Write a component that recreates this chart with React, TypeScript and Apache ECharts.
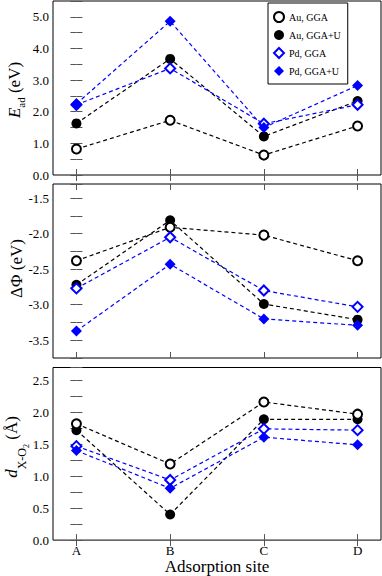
import React, { useEffect, useRef } from 'react';
import * as echarts from 'echarts';

// ---- data ----
const sites = ['A', 'B', 'C', 'D'];
const seriesNames = ['Au, GGA', 'Au, GGA+U', 'Pd, GGA', 'Pd, GGA+U'];

const eadAuGGA = [0.82, 1.73, 0.63, 1.55];
const eadAuGGAU = [1.63, 3.67, 1.22, 2.34];
const eadPdGGA = [2.22, 3.37, 1.62, 2.22];
const eadPdGGAU = [2.25, 4.86, 1.5, 2.83];

const dphiAuGGA = [-2.38, -1.91, -2.02, -2.38];
const dphiAuGGAU = [-2.72, -1.81, -2.99, -3.21];
const dphiPdGGA = [-2.77, -2.05, -2.8, -3.03];
const dphiPdGGAU = [-3.37, -2.43, -3.2, -3.29];

const dAuGGA = [1.82, 1.19, 2.16, 1.97];
const dAuGGAU = [1.72, 0.4, 1.89, 1.89];
const dPdGGA = [1.47, 0.94, 1.74, 1.72];
const dPdGGAU = [1.4, 0.81, 1.61, 1.49];

const eadTicks = { min: 0, max: 5.5, step: 0.5, major: 1 };
const dphiTicks = { min: -3.75, max: -1.3, step: 0.25, major: 0.5 };
const dTicks = { min: 0, max: 2.7, step: 0.25, major: 0.5 };

const FONT = 'Liberation Serif';
const BLUE = '#0000ff';

const panels = [
  { ticks: eadTicks, data: [eadAuGGAU, eadAuGGA, eadPdGGA, eadPdGGAU] },
  { ticks: dphiTicks, data: [dphiAuGGAU, dphiAuGGA, dphiPdGGA, dphiPdGGAU] },
  { ticks: dTicks, data: [dAuGGAU, dAuGGA, dPdGGA, dPdGGAU] },
];
// order of series in each panel's data above
const order = [1, 0, 2, 3];

const gridTops = [1, 184, 367.5];
const gridH = 174;
const gridLeft = 53;
const gridW = 328;

const styleFor = (k: number) => {
  switch (k) {
    case 0:
      return { symbol: 'circle', symbolSize: 9, itemStyle: { color: '#fff', borderColor: '#000', borderWidth: 2 }, line: '#000' };
    case 1:
      return { symbol: 'circle', symbolSize: 10, itemStyle: { color: '#000', borderColor: '#000', borderWidth: 0 }, line: '#000' };
    case 2:
      return { symbol: 'diamond', symbolSize: 10, itemStyle: { color: '#fff', borderColor: BLUE, borderWidth: 2 }, line: BLUE };
    default:
      return { symbol: 'diamond', symbolSize: 11, itemStyle: { color: BLUE, borderColor: BLUE, borderWidth: 0 }, line: BLUE };
  }
};

let measureCtx: CanvasRenderingContext2D | null = null;
function textWidth(text: string, size: number, italic: boolean) {
  if (!measureCtx) measureCtx = document.createElement('canvas').getContext('2d');
  if (!measureCtx) return text.length * size * 0.5;
  measureCtx.font = `${italic ? 'italic ' : ''}${size}px "Liberation Serif"`;
  return measureCtx.measureText(text).width;
}

type Tok = { text: string; size: number; italic?: boolean; dy?: number };

function verticalTitle(tokens: Tok[], baseX: number, centerY: number) {
  const widths = tokens.map((t) => textWidth(t.text, t.size, !!t.italic));
  const total = widths.reduce((a, b) => a + b, 0);
  let x = -total / 2;
  const children = tokens.map((t, i) => {
    const el = {
      type: 'text',
      x,
      y: (t.dy || 0) - 0.34 * t.size,
      style: {
        text: t.text,
        fontSize: t.size,
        fontFamily: FONT,
        fontStyle: t.italic ? 'italic' : 'normal',
        fill: '#000',
        align: 'left',
        verticalAlign: 'middle',
      },
    };
    x += widths[i];
    return el;
  });
  return { type: 'group', x: baseX, y: centerY, rotation: Math.PI / 2, children };
}

const isMajor = (v: number, major: number) => Math.abs(v / major - Math.round(v / major)) < 1e-6;

export default function App() {
  const ref = useRef<HTMLDivElement>(null);
  useEffect(() => {
    if (!ref.current) return;
    const chart = echarts.init(ref.current, null, { renderer: 'svg' });

    const grid: any[] = [];
    const xAxis: any[] = [];
    const yAxis: any[] = [];
    const series: any[] = [];
    const tickStyle = { color: '#555', width: 1 };

    panels.forEach((p, i) => {
      grid.push({ left: gridLeft, top: gridTops[i], width: gridW, height: gridH, show: true, borderColor: '#000', borderWidth: 1, backgroundColor: 'transparent' });
      ['bottom', 'top'].forEach((pos) => {
        const showLab = i === 2 && pos === 'bottom';
        xAxis.push({
          type: 'value',
          gridIndex: i,
          position: pos,
          min: -0.25,
          max: 3.25,
          axisLine: { show: false },
          splitLine: { show: false },
          axisTick: { show: true, inside: true, length: 6, customValues: [0, 1, 2, 3], lineStyle: tickStyle },
          axisLabel: {
            show: showLab,
            customValues: [0, 1, 2, 3],
            formatter: (v: number) => sites[Math.round(v)] ?? '',
            fontFamily: FONT,
            fontSize: 13,
            color: '#000',
            margin: 4,
          },
          name: showLab ? 'Adsorption site' : '',
          nameLocation: 'middle',
          nameGap: 14,
          nameTextStyle: { fontFamily: FONT, fontSize: 17, color: '#000' },
        });
      });
      ['left', 'right'].forEach((pos) => {
        yAxis.push({
          type: 'value',
          gridIndex: i,
          position: pos,
          min: p.ticks.min,
          max: p.ticks.max,
          interval: p.ticks.step,
          axisLine: { show: false },
          splitLine: { show: false },
          axisTick: { show: true, inside: true, length: 6, lineStyle: tickStyle },
          axisLabel: {
            show: pos === 'left',
            formatter: (v: number) => (isMajor(v, p.ticks.major) ? v.toFixed(1) : ''),
            fontFamily: FONT,
            fontSize: 13,
            color: '#000',
            margin: 4,
            showMinLabel: true,
            showMaxLabel: true,
          },
        });
      });
      order.forEach((k, j) => {
        const st = styleFor(k);
        series.push({
          type: 'line',
          name: seriesNames[k],
          xAxisIndex: i * 2,
          yAxisIndex: i * 2,
          data: p.data[j].map((v, idx) => [idx, v]),
          symbol: st.symbol,
          symbolSize: st.symbolSize,
          itemStyle: st.itemStyle,
          lineStyle: { color: st.line, width: 1.2, type: [4, 3] },
          emphasis: { disabled: true },
          z: 2 + j,
        });
      });
    });

    const legendData = seriesNames.map((n, k) => {
      const st = styleFor(k);
      return { name: n, icon: st.symbol, itemStyle: st.itemStyle };
    });

    chart.setOption({
      animation: false,
      backgroundColor: '#fff',
      textStyle: { fontFamily: FONT },
      grid,
      xAxis,
      yAxis,
      series,
      legend: {
        orient: 'vertical',
        left: 268,
        top: 3,
        padding: [8, 7, 8, 5],
        itemGap: 7,
        itemWidth: 10,
        itemHeight: 10,
        borderColor: '#000',
        borderWidth: 1,
        backgroundColor: '#fff',
        selectedMode: false,
        textStyle: { fontFamily: FONT, fontSize: 10, color: '#000' },
        data: legendData,
        z: 20,
      },
      graphic: [
        verticalTitle(
          [
            { text: 'E', size: 17, italic: true },
            { text: 'ad', size: 11, dy: 4 },
            { text: ' (eV)', size: 17 },
          ],
          20.5,
          90
        ),
        verticalTitle([{ text: 'ΔΦ (eV)', size: 17 }], 22.5, 268.5),
        verticalTitle(
          [
            { text: 'd', size: 17, italic: true },
            { text: 'X-O', size: 12, dy: 9 },
            { text: '2', size: 8, dy: 12 },
            { text: ' (Å)', size: 17 },
          ],
          17,
          447
        ),
      ],
    });
    return () => chart.dispose();
  }, []);
  return <div ref={ref} style={{ position: 'absolute', left: 0, top: 0, width: 382, height: 576 }} />;
}
